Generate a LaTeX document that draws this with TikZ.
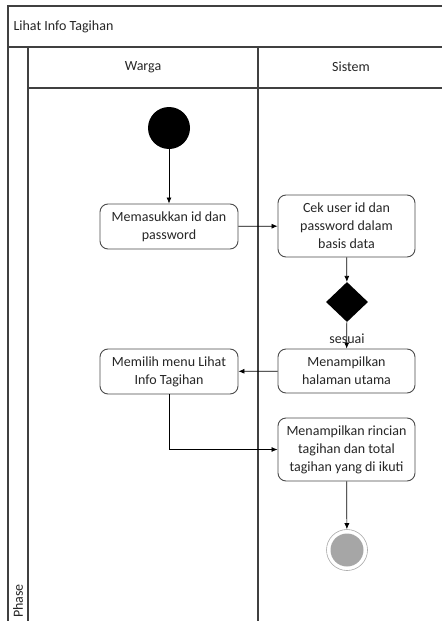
\documentclass[tikz,border=0pt]{standalone}
\usepackage{fontspec}
\setmainfont{Carlito}
\usetikzlibrary{arrows.meta,shapes.geometric}
\begin{document}
\begin{tikzpicture}[x=1pt,y=-1pt,
  every node/.style={font=\fontsize{14}{18}\selectfont, text=black!85},
  frame/.style={draw=black!75, line width=1.3pt},
  act/.style={draw=black!70, line width=0.9pt, rounded corners=8pt, fill=white, align=center, inner sep=0pt},
  flow/.style={draw=black, line width=0.7pt, -{Latex[length=6pt,width=5pt]}}
]
\useasboundingbox (0,0) rectangle (442,621);
% frame
\draw[frame] (442,6) -- (8,6) -- (8,621);
\draw[frame] (8,47) -- (442,47);
\draw[frame] (28,47) -- (28,621);
\draw[frame] (28,88) -- (442,88);
\draw[frame] (258,47) -- (258,621);
\node[anchor=west] (title) at (10,27) {Lihat Info Tagihan};
\node (warga) at (143,67) {Warga};
\node (sistem) at (351,67) {Sistem};
\node[rotate=90] (phase) at (18,601) {Phase};
% nodes
\node[circle, fill=black, minimum size=42pt, inner sep=0pt] (start) at (169,128) {};
\node[act, minimum width=138pt, minimum height=45pt] (a1) at (169,226.5) {Memasukkan id dan\\password};
\node[act, minimum width=137pt, minimum height=62pt] (a2) at (346.5,226) {Cek user id dan\\password dalam\\basis data};
\node[diamond, fill=black, minimum width=42pt, minimum height=40pt, inner sep=0pt, shape aspect=1] (dec) at (347,302) {};
\node[act, minimum width=137pt, minimum height=44pt] (a3) at (346.5,371) {Menampilkan\\halaman utama};
\node[act, minimum width=138pt, minimum height=45pt] (a4) at (169,371.5) {Memilih menu Lihat\\Info Tagihan};
\node[act, minimum width=137pt, minimum height=63pt] (a5) at (346.5,449.5) {Menampilkan rincian\\tagihan dan total\\tagihan yang di ikuti};
\node[circle, draw=black!35, line width=0.6pt, minimum size=41pt, inner sep=0pt] (end) at (347,550) {};
\node[circle, fill=black!35, minimum size=33pt, inner sep=0pt] (endin) at (347,550) {};
% connectors
\draw[flow] (start) -- (a1);
\draw[flow] (a1) -- (a2);
\draw[flow] (a2) -- (dec);
\draw[flow] (dec) -- (a3);
\node (sesuai) at (347,339) {sesuai};
\draw[flow] (a3) -- (a4);
\draw[flow] (a4.south) |- (a5.west);
\draw[flow] (a5) -- (end);
\end{tikzpicture}
\end{document}
